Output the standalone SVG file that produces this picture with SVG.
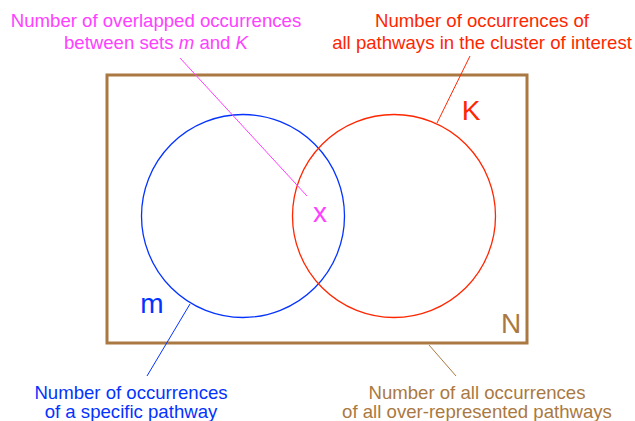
<svg xmlns="http://www.w3.org/2000/svg" width="635" height="421" viewBox="0 0 635 421">
<style>
text{font-family:"Liberation Sans",Arial,Helvetica,sans-serif;text-anchor:middle}
.lbl{font-size:18.6px}
.big{font-size:28px}
.pink{fill:#FF40FF}.red{fill:#FF2600}.blue{fill:#0433FF}.brown{fill:#AA7942}
.c{fill:none;stroke-width:1.3}
.ln{fill:none;stroke-width:1}
</style>
<rect width="635" height="421" fill="#fff"/>
<g id="universe">
<rect x="107" y="75" width="420" height="268" fill="none" stroke="#AA7942" stroke-width="3"/>
<text class="big brown" x="511" y="333">N</text>
</g>
<g id="set-m">
<circle class="c" cx="243" cy="216" r="101.5" stroke="#0433FF"/>
<text class="big blue" x="152" y="313">m</text>
</g>
<g id="set-K">
<circle class="c" cx="394" cy="216" r="101.5" stroke="#FF2600"/>
<text class="big red" x="471" y="120">K</text>
</g>
<g id="overlap">
<text class="big pink" x="320" y="222">x</text>
</g>
<g id="connectors">
<line class="ln" x1="180" y1="58" x2="307" y2="196" stroke="#FF40FF"/>
<line class="ln" x1="470" y1="56" x2="437" y2="123" stroke="#FF2600"/>
<line class="ln" x1="190" y1="304" x2="147" y2="376" stroke="#0433FF"/>
<line class="ln" x1="429" y1="345" x2="456" y2="376" stroke="#AA7942"/>
</g>
<g id="label-overlap">
<text class="lbl pink" x="156" y="27">Number of overlapped occurrences</text>
<text class="lbl pink" x="156" y="48.5">between sets <tspan font-style="italic">m</tspan> and <tspan font-style="italic">K</tspan></text>
</g>
<g id="label-K">
<text class="lbl red" x="482" y="27">Number of occurrences of</text>
<text class="lbl red" x="482" y="48.5">all pathways in the cluster of interest</text>
</g>
<g id="label-m">
<text class="lbl blue" x="131" y="398.5">Number of occurrences</text>
<text class="lbl blue" x="131" y="418">of a specific pathway</text>
</g>
<g id="label-N">
<text class="lbl brown" x="477" y="398.5">Number of all occurrences</text>
<text class="lbl brown" x="477" y="418">of all over-represented pathways</text>
</g>
</svg>
